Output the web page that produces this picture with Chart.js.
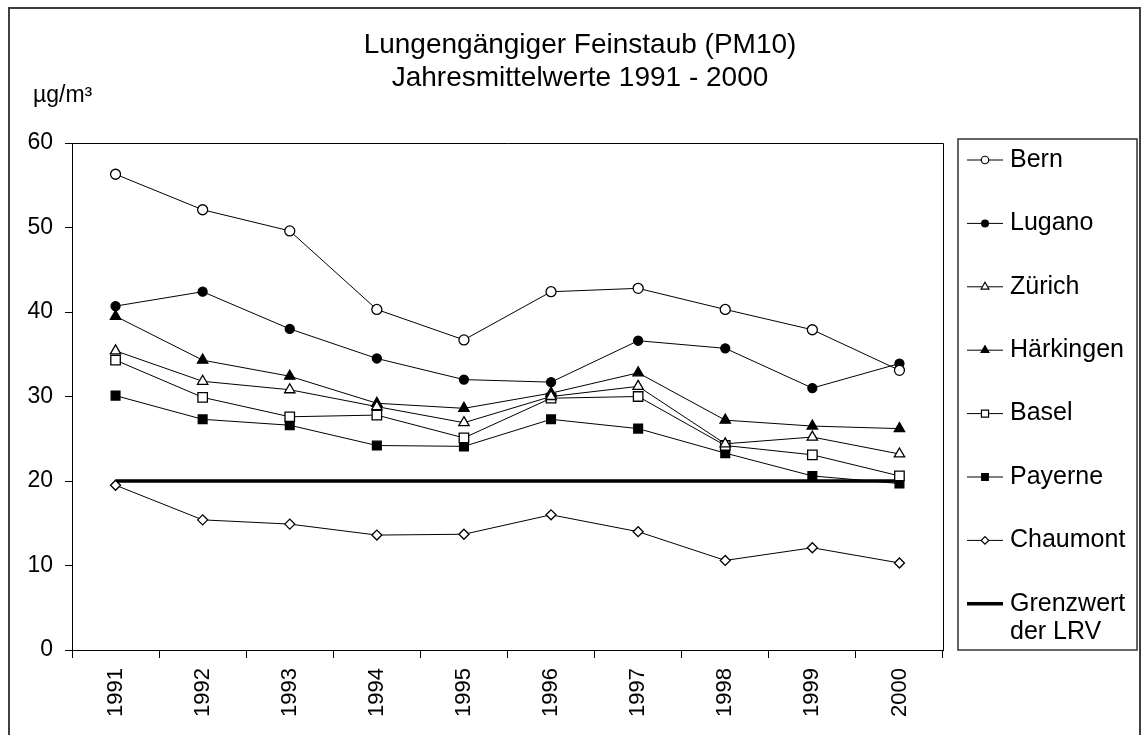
<!DOCTYPE html>
<html>
<head>
<meta charset="utf-8">
<script src="https://cdn.jsdelivr.net/npm/chart.js@4.4.1/dist/chart.umd.min.js"></script>
<style>
  html, body { margin: 0; padding: 0; background: #fff; }
  #wrap { width: 1141px; height: 735px; }
</style>
</head>
<body>
<div id="wrap"><canvas id="chart" width="1141" height="735"></canvas></div>
<script>
const years = ['1991', '1992', '1993', '1994', '1995', '1996', '1997', '1998', '1999', '2000'];
const bern = [56.3, 52.1, 49.6, 40.3, 36.7, 42.4, 42.8, 40.3, 37.9, 33.1];
const lugano = [40.7, 42.4, 38.0, 34.5, 32.0, 31.7, 36.6, 35.7, 31.0, 33.9];
const zuerich = [35.4, 31.8, 30.8, 28.8, 26.9, 30.0, 31.2, 24.4, 25.2, 23.2];
const haerkingen = [39.5, 34.3, 32.4, 29.2, 28.6, 30.4, 32.8, 27.2, 26.5, 26.2];
const basel = [34.3, 29.9, 27.6, 27.8, 25.1, 29.8, 30.0, 24.2, 23.1, 20.6];
const payerne = [30.1, 27.3, 26.6, 24.2, 24.1, 27.3, 26.2, 23.3, 20.6, 19.7];
const chaumont = [19.5, 15.4, 14.9, 13.6, 13.7, 16.0, 14.0, 10.6, 12.1, 10.3];
const grenzwert = [20, 20, 20, 20, 20, 20, 20, 20, 20, 20];
const titleLines = ['Lungengängiger Feinstaub (PM10)', 'Jahresmittelwerte 1991 - 2000'];
const unitLabel = 'µg/m³';

const FONT = '"Liberation Sans", Arial, sans-serif';

function series(label, data, style, radius, fill) {
  return {
    label: label,
    data: data,
    borderColor: '#000',
    borderWidth: 1,
    pointStyle: style,
    pointRadius: radius,
    pointBackgroundColor: fill,
    pointBorderColor: '#000',
    pointBorderWidth: 1.3,
    tension: 0
  };
}

// frame, title, unit, plot border and legend box
const decor = {
  id: 'decor',
  beforeDraw(chart) {
    const ctx = chart.ctx;
    ctx.save();
    ctx.fillStyle = '#fff';
    ctx.fillRect(0, 0, chart.width, chart.height);
    ctx.strokeStyle = '#404040';
    ctx.lineWidth = 2;
    ctx.strokeRect(9, 8, 1131, 800);
    ctx.restore();
  },
  afterDraw(chart) {
    const ctx = chart.ctx;
    const a = chart.chartArea;
    ctx.save();
    ctx.fillStyle = '#000';
    ctx.textAlign = 'center';
    ctx.textBaseline = 'middle';
    ctx.font = '28px ' + FONT;
    ctx.fillText(titleLines[0], 580, 45);
    ctx.fillText(titleLines[1], 580, 78);
    ctx.textAlign = 'left';
    ctx.font = '23px ' + FONT;
    ctx.fillText(unitLabel, 33, 96);

    ctx.strokeStyle = '#000';
    ctx.lineWidth = 1;
    ctx.beginPath();
    ctx.moveTo(a.left, a.top + 0.5);
    ctx.lineTo(a.right + 0.5, a.top + 0.5);
    ctx.lineTo(a.right + 0.5, a.bottom);
    ctx.stroke();

    // legend
    const lx = 958, ly = 139, lw = 179, lh = 511;
    ctx.strokeStyle = '#333';
    ctx.lineWidth = 1.5;
    ctx.strokeRect(lx, ly, lw, lh);
    ctx.font = '25px ' + FONT;
    chart.data.datasets.forEach((ds, i) => {
      const y = 160 + i * 63.4;
      ctx.strokeStyle = '#000';
      ctx.lineWidth = ds.borderWidth;
      ctx.beginPath();
      ctx.moveTo(967, y);
      ctx.lineTo(1003, y);
      ctx.stroke();
      if (ds.pointRadius > 0) {
        ctx.fillStyle = ds.pointBackgroundColor;
        ctx.strokeStyle = '#000';
        ctx.lineWidth = 1.2;
        Chart.helpers.drawPoint(ctx, {
          pointStyle: ds.pointStyle,
          radius: ds.pointRadius * 0.75,
          borderWidth: 1.2
        }, 985, y);
      }
      ctx.fillStyle = '#000';
      ds.label.split('\n').forEach((t, k) => ctx.fillText(t, 1010, y + k * 28));
    });
    ctx.restore();
  }
};

new Chart(document.getElementById('chart'), {
  type: 'line',
  data: {
    labels: years,
    datasets: [
      series('Bern', bern, 'circle', 5, '#fff'),
      series('Lugano', lugano, 'circle', 4.5, '#000'),
      series('Zürich', zuerich, 'triangle', 6, '#fff'),
      series('Härkingen', haerkingen, 'triangle', 6, '#000'),
      series('Basel', basel, 'rect', 6.7, '#fff'),
      series('Payerne', payerne, 'rect', 6.2, '#000'),
      series('Chaumont', chaumont, 'rectRot', 5, '#fff'),
      {
        label: 'Grenzwert\nder LRV',
        data: grenzwert,
        borderColor: '#000',
        borderWidth: 3.5,
        pointRadius: 0,
        tension: 0
      }
    ]
  },
  options: {
    responsive: false,
    animation: false,
    devicePixelRatio: 1,
    layout: { padding: { top: 143, right: 198, bottom: 0, left: 0 } },
    plugins: {
      legend: { display: false },
      title: { display: false },
      tooltip: { enabled: false }
    },
    scales: {
      x: {
        offset: true,
        grid: { offset: true, drawOnChartArea: false, color: '#000', tickLength: 8 },
        border: { color: '#000', width: 1 },
        ticks: {
          color: '#000',
          font: { family: FONT, size: 22 },
          minRotation: 90,
          maxRotation: 90,
          padding: 10
        },
        afterFit(s) { s.height = 85; }
      },
      y: {
        min: 0,
        max: 60,
        grid: { drawOnChartArea: false, color: '#000', tickLength: 7 },
        border: { color: '#000', width: 1 },
        ticks: {
          stepSize: 10,
          color: '#000',
          font: { family: FONT, size: 23 },
          padding: 12
        },
        afterFit(s) { s.width = 72; }
      }
    }
  },
  plugins: [decor]
});
</script>
</body>
</html>
